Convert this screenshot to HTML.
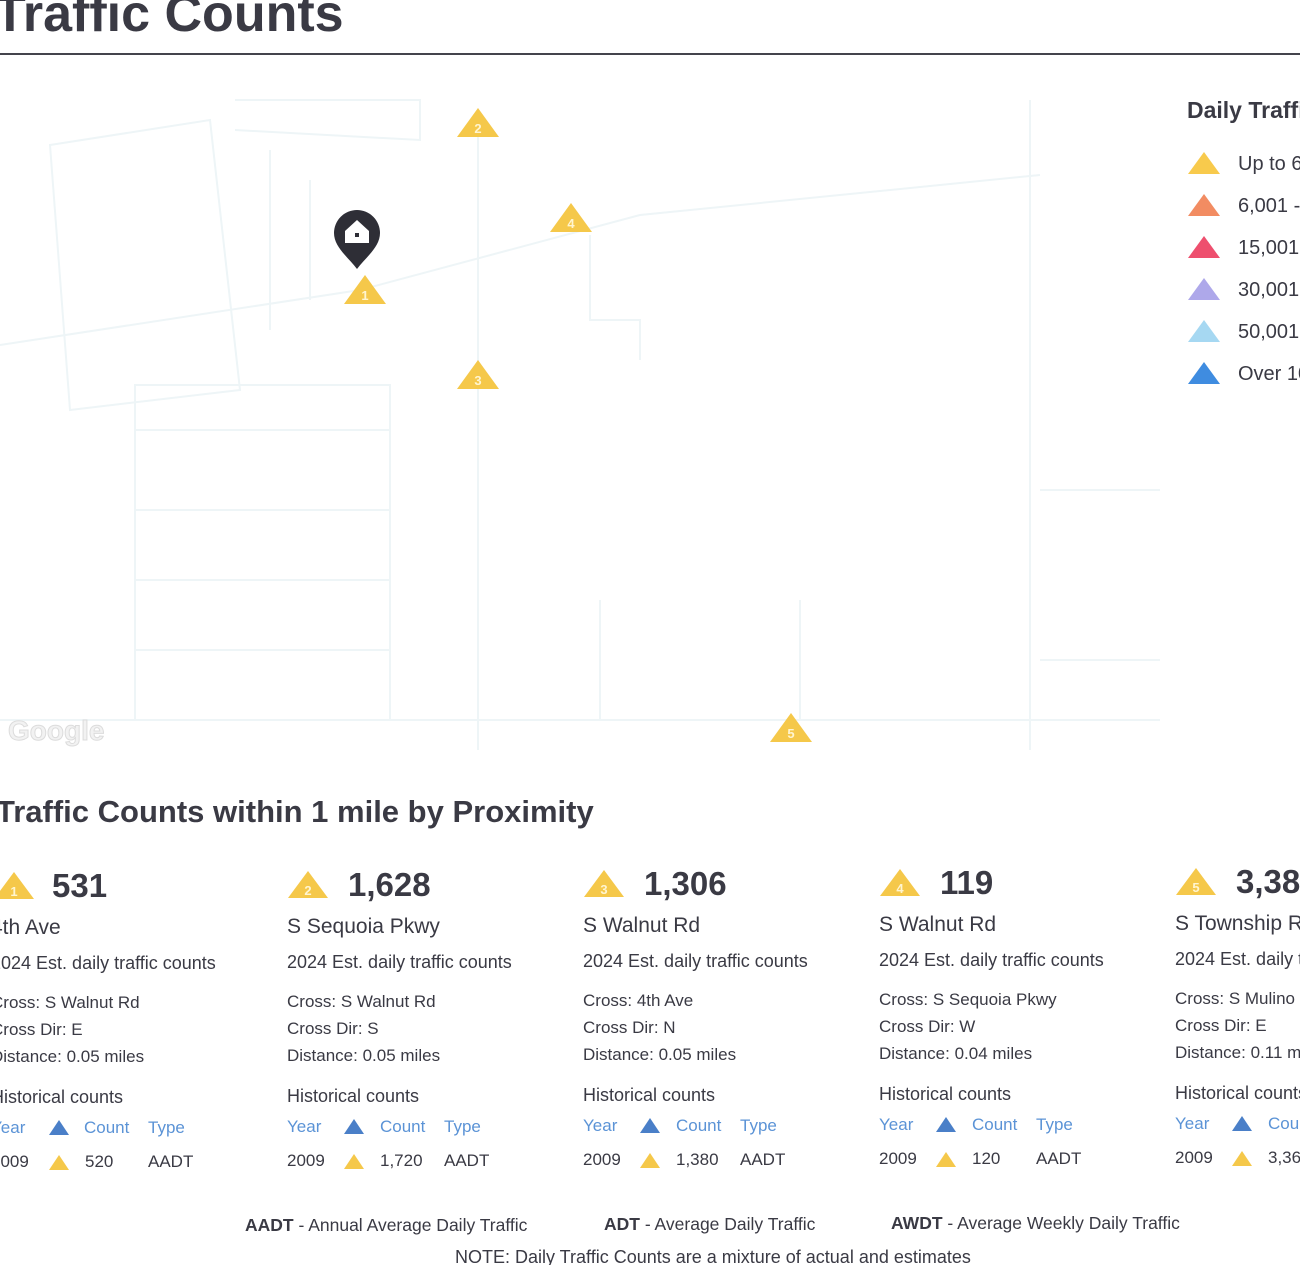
<!DOCTYPE html>
<html><head><meta charset="utf-8"><style>
html,body{margin:0;width:1300px;height:1265px;overflow:hidden}
body{background:#fff;font-family:"Liberation Sans",sans-serif;color:#3a3a44;position:relative}
.t{position:absolute;line-height:0;white-space:nowrap}
.b{font-weight:bold}
.blue{color:#5b93d6}
svg{position:absolute;left:0;top:0}
</style></head><body>
<svg width="1300" height="1265">
<g stroke="#eef5f7" stroke-width="2" fill="none">
<path d="M0 345 L360 290 L640 215 L1040 175"/>
<path d="M478 130 V750"/>
<path d="M50 145 L210 120 L240 390 L70 410 Z"/>
<path d="M235 100 L420 100 L420 140 L235 130"/>
<path d="M135 385 H390 V720 H135 Z"/>
<path d="M135 430 H390 M135 510 H390 M135 580 H390 M135 650 H390"/>
<path d="M590 235 V320 H640 V360"/>
<path d="M0 720 H1160"/>
<path d="M1030 100 V750"/>
<path d="M1040 490 H1160 M1040 660 H1160"/>
<path d="M270 150 V330 M310 180 V300"/>
<path d="M600 600 V720 M800 600 V720"/>
</g>
<text x="8" y="740" font-family="Liberation Sans" font-size="28" font-weight="bold" fill="#f2f2f2" stroke="#dcdcdc" stroke-width="1">Google</text>
<line x1="0" y1="54" x2="1300" y2="54" stroke="#44444c" stroke-width="2"/>
<g fill="#f5c84a" font-family="Liberation Sans" font-size="13" font-weight="bold" text-anchor="middle">
<path d="M478 108 L499 137 L457 137Z"/><text x="478" y="133" fill="#fff5d0">2</text>
<path d="M571 203 L592 232 L550 232Z"/><text x="571" y="228" fill="#fff5d0">4</text>
<path d="M365 275 L386 304 L344 304Z"/><text x="365" y="300" fill="#fff5d0">1</text>
<path d="M478 360 L499 389 L457 389Z"/><text x="478" y="385" fill="#fff5d0">3</text>
<path d="M791 713 L812 742 L770 742Z"/><text x="791" y="738" fill="#fff5d0">5</text>
</g>
<path d="M357 210 a23 23 0 0 1 23 23 c0 14 -14 24 -23 36 c-9 -12 -23 -22 -23 -36 a23 23 0 0 1 23 -23Z" fill="#2e2e36"/>
<path d="M357 220 L369 231 V243 H345 V231Z" fill="#fff"/>
<rect x="355" y="233" width="4" height="4" fill="#2e2e36"/>
<g>
<path d="M1204 152 L1220 174 L1188 174Z" fill="#f8ca4c"/>
<path d="M1204 194 L1220 216 L1188 216Z" fill="#f28c62"/>
<path d="M1204 236 L1220 258 L1188 258Z" fill="#ee4f6e"/>
<path d="M1204 278 L1220 300 L1188 300Z" fill="#aea8ea"/>
<path d="M1204 320 L1220 342 L1188 342Z" fill="#a6d8f2"/>
<path d="M1204 362 L1220 384 L1188 384Z" fill="#3f8ce0"/>
</g>
<g font-family="Liberation Sans" font-size="13" font-weight="bold" text-anchor="middle">
<path d="M14 872 L34 899 L-6 899Z" fill="#f5c84a"/><text x="14" y="896" fill="#fff5d0">1</text>
<path d="M308 871 L328 898 L288 898Z" fill="#f5c84a"/><text x="308" y="895" fill="#fff5d0">2</text>
<path d="M604 870 L624 897 L584 897Z" fill="#f5c84a"/><text x="604" y="894" fill="#fff5d0">3</text>
<path d="M900 869 L920 896 L880 896Z" fill="#f5c84a"/><text x="900" y="893" fill="#fff5d0">4</text>
<path d="M1196 868 L1216 895 L1176 895Z" fill="#f5c84a"/><text x="1196" y="892" fill="#fff5d0">5</text>
</g>
<g>
<path d="M59 1120 L69 1135 L49 1135Z" fill="#4a7fc8"/><path d="M59 1155 L69 1170 L49 1170Z" fill="#f5c84a"/>
<path d="M354 1119 L364 1134 L344 1134Z" fill="#4a7fc8"/><path d="M354 1154 L364 1169 L344 1169Z" fill="#f5c84a"/>
<path d="M650 1118 L660 1133 L640 1133Z" fill="#4a7fc8"/><path d="M650 1153 L660 1168 L640 1168Z" fill="#f5c84a"/>
<path d="M946 1117 L956 1132 L936 1132Z" fill="#4a7fc8"/><path d="M946 1152 L956 1167 L936 1167Z" fill="#f5c84a"/>
<path d="M1242 1116 L1252 1131 L1232 1131Z" fill="#4a7fc8"/><path d="M1242 1151 L1252 1166 L1232 1166Z" fill="#f5c84a"/>
</g>
</svg>
<div class="t b" style="left:-6px;top:14px;font-size:52px">Traffic Counts</div>
<div class="t b" style="left:1187px;top:110px;font-size:23px">Daily Traffic</div>
<div class="t" style="left:1238px;top:164px;font-size:20px">Up to 6,000</div>
<div class="t" style="left:1238px;top:206px;font-size:20px">6,001 - 15,000</div>
<div class="t" style="left:1238px;top:248px;font-size:20px">15,001 - 30,000</div>
<div class="t" style="left:1238px;top:290px;font-size:20px">30,001 - 50,000</div>
<div class="t" style="left:1238px;top:332px;font-size:20px">50,001 - 100,000</div>
<div class="t" style="left:1238px;top:374px;font-size:20px">Over 100,000</div>
<div class="t b" style="left:-4px;top:812px;font-size:31px">Traffic Counts within 1 mile by Proximity</div>

<!-- card 1 -->
<div class="t b" style="left:52px;top:886px;font-size:33px">531</div>
<div class="t" style="left:-9px;top:928px;font-size:21px">4th Ave</div>
<div class="t" style="left:-9px;top:963px;font-size:18px">2024 Est. daily traffic counts</div>
<div class="t" style="left:-9px;top:1003px;font-size:17px">Cross: S Walnut Rd</div>
<div class="t" style="left:-9px;top:1030px;font-size:17px">Cross Dir: E</div>
<div class="t" style="left:-9px;top:1057px;font-size:17px">Distance: 0.05 miles</div>
<div class="t" style="left:-9px;top:1097px;font-size:18px">Historical counts</div>
<div class="t blue" style="left:-9px;top:1128px;font-size:17px">Year</div>
<div class="t blue" style="left:84px;top:1128px;font-size:17px">Count</div>
<div class="t blue" style="left:148px;top:1128px;font-size:17px">Type</div>
<div class="t" style="left:-9px;top:1162px;font-size:17px">2009</div>
<div class="t" style="left:85px;top:1162px;font-size:17px">520</div>
<div class="t" style="left:148px;top:1162px;font-size:17px">AADT</div>

<!-- card 2 -->
<div class="t b" style="left:348px;top:885px;font-size:33px">1,628</div>
<div class="t" style="left:287px;top:927px;font-size:21px">S Sequoia Pkwy</div>
<div class="t" style="left:287px;top:962px;font-size:18px">2024 Est. daily traffic counts</div>
<div class="t" style="left:287px;top:1002px;font-size:17px">Cross: S Walnut Rd</div>
<div class="t" style="left:287px;top:1029px;font-size:17px">Cross Dir: S</div>
<div class="t" style="left:287px;top:1056px;font-size:17px">Distance: 0.05 miles</div>
<div class="t" style="left:287px;top:1096px;font-size:18px">Historical counts</div>
<div class="t blue" style="left:287px;top:1127px;font-size:17px">Year</div>
<div class="t blue" style="left:380px;top:1127px;font-size:17px">Count</div>
<div class="t blue" style="left:444px;top:1127px;font-size:17px">Type</div>
<div class="t" style="left:287px;top:1161px;font-size:17px">2009</div>
<div class="t" style="left:380px;top:1161px;font-size:17px">1,720</div>
<div class="t" style="left:444px;top:1161px;font-size:17px">AADT</div>

<!-- card 3 -->
<div class="t b" style="left:644px;top:884px;font-size:33px">1,306</div>
<div class="t" style="left:583px;top:926px;font-size:21px">S Walnut Rd</div>
<div class="t" style="left:583px;top:961px;font-size:18px">2024 Est. daily traffic counts</div>
<div class="t" style="left:583px;top:1001px;font-size:17px">Cross: 4th Ave</div>
<div class="t" style="left:583px;top:1028px;font-size:17px">Cross Dir: N</div>
<div class="t" style="left:583px;top:1055px;font-size:17px">Distance: 0.05 miles</div>
<div class="t" style="left:583px;top:1095px;font-size:18px">Historical counts</div>
<div class="t blue" style="left:583px;top:1126px;font-size:17px">Year</div>
<div class="t blue" style="left:676px;top:1126px;font-size:17px">Count</div>
<div class="t blue" style="left:740px;top:1126px;font-size:17px">Type</div>
<div class="t" style="left:583px;top:1160px;font-size:17px">2009</div>
<div class="t" style="left:676px;top:1160px;font-size:17px">1,380</div>
<div class="t" style="left:740px;top:1160px;font-size:17px">AADT</div>

<!-- card 4 -->
<div class="t b" style="left:940px;top:883px;font-size:33px">119</div>
<div class="t" style="left:879px;top:925px;font-size:21px">S Walnut Rd</div>
<div class="t" style="left:879px;top:960px;font-size:18px">2024 Est. daily traffic counts</div>
<div class="t" style="left:879px;top:1000px;font-size:17px">Cross: S Sequoia Pkwy</div>
<div class="t" style="left:879px;top:1027px;font-size:17px">Cross Dir: W</div>
<div class="t" style="left:879px;top:1054px;font-size:17px">Distance: 0.04 miles</div>
<div class="t" style="left:879px;top:1094px;font-size:18px">Historical counts</div>
<div class="t blue" style="left:879px;top:1125px;font-size:17px">Year</div>
<div class="t blue" style="left:972px;top:1125px;font-size:17px">Count</div>
<div class="t blue" style="left:1036px;top:1125px;font-size:17px">Type</div>
<div class="t" style="left:879px;top:1159px;font-size:17px">2009</div>
<div class="t" style="left:972px;top:1159px;font-size:17px">120</div>
<div class="t" style="left:1036px;top:1159px;font-size:17px">AADT</div>

<!-- card 5 -->
<div class="t b" style="left:1236px;top:882px;font-size:33px">3,384</div>
<div class="t" style="left:1175px;top:924px;font-size:21px">S Township Rd</div>
<div class="t" style="left:1175px;top:959px;font-size:18px">2024 Est. daily traffic counts</div>
<div class="t" style="left:1175px;top:999px;font-size:17px">Cross: S Mulino Rd</div>
<div class="t" style="left:1175px;top:1026px;font-size:17px">Cross Dir: E</div>
<div class="t" style="left:1175px;top:1053px;font-size:17px">Distance: 0.11 miles</div>
<div class="t" style="left:1175px;top:1093px;font-size:18px">Historical counts</div>
<div class="t blue" style="left:1175px;top:1124px;font-size:17px">Year</div>
<div class="t blue" style="left:1268px;top:1124px;font-size:17px">Count</div>
<div class="t" style="left:1175px;top:1158px;font-size:17px">2009</div>
<div class="t" style="left:1268px;top:1158px;font-size:17px">3,360</div>

<div class="t" style="left:245px;top:1225px;font-size:17.5px"><b>AADT</b> - Annual Average Daily Traffic</div>
<div class="t" style="left:604px;top:1224px;font-size:17.5px"><b>ADT</b> - Average Daily Traffic</div>
<div class="t" style="left:891px;top:1223px;font-size:17.5px"><b>AWDT</b> - Average Weekly Daily Traffic</div>
<div class="t" style="left:455px;top:1257px;font-size:18px">NOTE: Daily Traffic Counts are a mixture of actual and estimates</div>
</body></html>
